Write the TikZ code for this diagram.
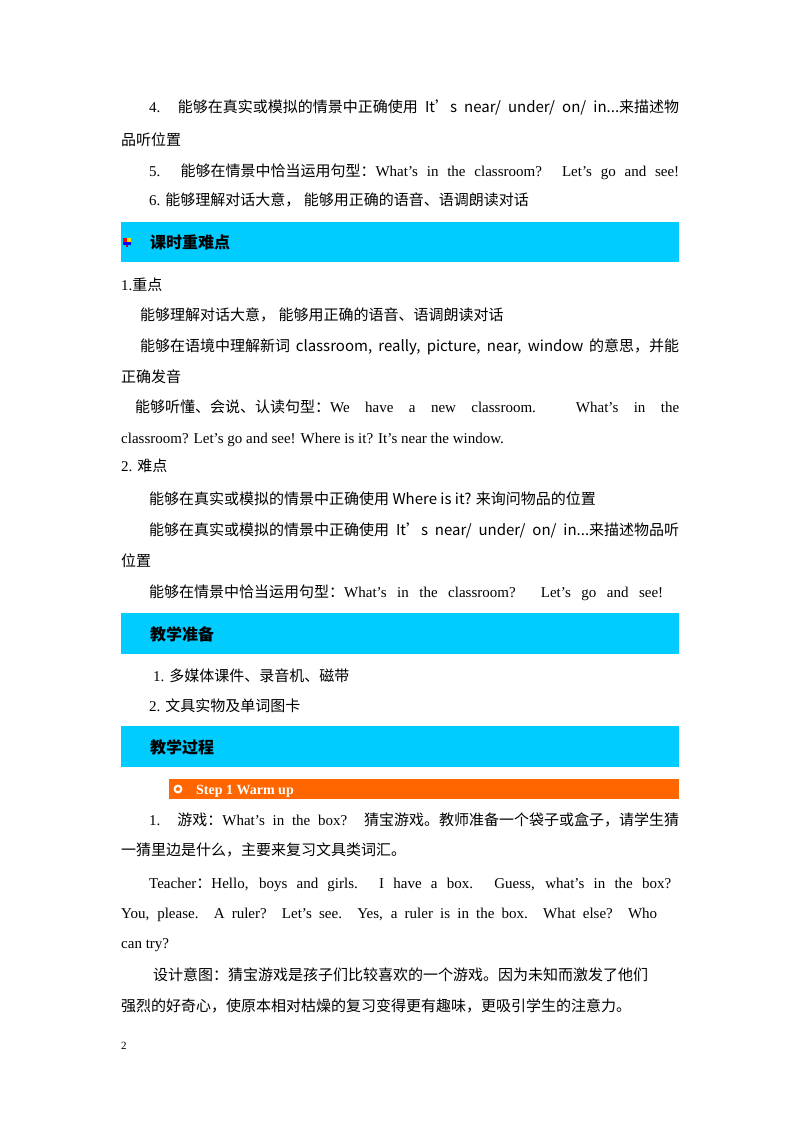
\documentclass[tikz,border=0pt]{standalone}
\usetikzlibrary{shapes.geometric}
\usepackage{fontspec}
\setmainfont{Liberation Serif}
\newfontfamily\cjk{Noto Sans CJK SC}
\newfontfamily\lat{Liberation Serif}
\XeTeXinterchartokenstate=1
\newXeTeXintercharclass\cjkcls
\count255="4E00 \loop \XeTeXcharclass\count255=\cjkcls \ifnum\count255<"9FFF \advance\count255 1 \repeat
\count255="3000 \loop \XeTeXcharclass\count255=\cjkcls \ifnum\count255<"303F \advance\count255 1 \repeat
\count255="FF00 \loop \XeTeXcharclass\count255=\cjkcls \ifnum\count255<"FF5F \advance\count255 1 \repeat
\XeTeXinterchartoks 0 \cjkcls = {\cjk}
\XeTeXinterchartoks 4095 \cjkcls = {\cjk}
\XeTeXinterchartoks \cjkcls 0 = {\lat}
\definecolor{barcyan}{HTML}{00CCFF}
\definecolor{barorange}{HTML}{FF6600}
\tikzset{ln/.style={anchor=base west,inner sep=0pt,font=\fontsize{15}{18}\selectfont}}
\newcommand{\J}[2]{\makebox[#1pt][s]{#2}}
\begin{document}
\begin{tikzpicture}[x=1pt,y=-1pt]
\useasboundingbox (0,0) rectangle (800,1132);
\fill[white] (0,0) rectangle (800,1132);
\node[ln] (l1) at (149,112) {\J{530}{4. 能够在真实或模拟的情景中正确使用 It’s near/ under/ on/ in...来描述物}};
\node[ln] (l2) at (121,145) {品听位置};
\node[ln] (l3) at (149,176) {\J{530}{5. 能够在情景中恰当运用句型：What’s in the classroom? Let’s go and see!}};
\node[ln] (l4) at (149,205) {6. 能够理解对话大意， 能够用正确的语音、语调朗读对话};
% bar 1
\fill[barcyan] (121,222) rectangle (679,262);
\node[ln,font=\fontsize{16}{18}\selectfont\bfseries] (h1) at (150,248) {课时重难点};
\foreach \yy in {242,634,747}{
 \fill[red] (123,\yy-4) rectangle (127,\yy);
 \fill[yellow!80!orange] (127,\yy-4) rectangle (131,\yy);
 \fill[blue] (123,\yy) rectangle (131,\yy+3);
 \fill[purple] (126,\yy+3) rectangle (128,\yy+5);
}
\node[ln] (m1) at (121,290) {1.重点};
\node[ln] (m2) at (140,320) {能够理解对话大意， 能够用正确的语音、语调朗读对话};
\node[ln] (m3) at (140,351) {\J{539}{能够在语境中理解新词 classroom, really, picture, near, window 的意思，并能}};
\node[ln] (m4) at (121,382) {正确发音};
\node[ln] (m5) at (135,412) {\J{544}{能够听懂、会说、认读句型：We have a new classroom. What’s in the}};
\node[ln] (m6) at (121,443) {classroom? Let’s go and see! Where is it? It’s near the window.};
\node[ln] (m7) at (121,471) {2. 难点};
\node[ln] (m8) at (149,504) {能够在真实或模拟的情景中正确使用 Where is it? 来询问物品的位置};
\node[ln] (m9) at (149,535) {\J{530}{能够在真实或模拟的情景中正确使用 It’s near/ under/ on/ in...来描述物品听}};
\node[ln] (m10) at (121,566) {位置};
\node[ln] (m11) at (149,597) {\J{514}{能够在情景中恰当运用句型：What’s in the classroom? Let’s go and see!}};
% bar 2
\fill[barcyan] (121,613) rectangle (679,654);
\node[ln,font=\fontsize{16}{18}\selectfont\bfseries] (h2) at (150,640) {教学准备};
\node[ln] (p1) at (153,681) {1. 多媒体课件、录音机、磁带};
\node[ln] (p2) at (149,711) {2. 文具实物及单词图卡};
% bar 3
\fill[barcyan] (121,726) rectangle (679,767);
\node[ln,font=\fontsize{16}{18}\selectfont\bfseries] (h3) at (150,753) {教学过程};
% step bar
\fill[barorange] (169,779) rectangle (679,799);
\fill[white] (178,789) circle (4.5);
\node[star,star points=5,fill=barorange,inner sep=0pt,minimum size=5pt] (st) at (178,789) {};
\node[ln,text=white,font=\fontsize{14}{16}\selectfont\bfseries] (s1) at (196,794) {Step 1 Warm up};
\node[ln] (q1) at (149,825) {\J{530}{1. 游戏：What’s in the box? 猜宝游戏。教师准备一个袋子或盒子，请学生猜}};
\node[ln] (q2) at (121,855) {一猜里边是什么，主要来复习文具类词汇。};
\node[ln] (q3) at (149,888) {\J{522}{Teacher：Hello, boys and girls. I have a box. Guess, what’s in the box?}};
\node[ln] (q4) at (121,918) {\J{536}{You, please. A ruler? Let’s see. Yes, a ruler is in the box. What else? Who}};
\node[ln] (q5) at (121,948) {can try?};
\node[ln] (q6) at (153,980) {\J{518}{设计意图：猜宝游戏是孩子们比较喜欢的一个游戏。因为未知而激发了他们}};
\node[ln] (q7) at (121,1011) {\J{551}{强烈的好奇心，使原本相对枯燥的复习变得更有趣味，更吸引学生的注意力。}};
\node[ln,font=\fontsize{11}{13}\selectfont] (pg) at (121,1049) {2};
\end{tikzpicture}
\end{document}
